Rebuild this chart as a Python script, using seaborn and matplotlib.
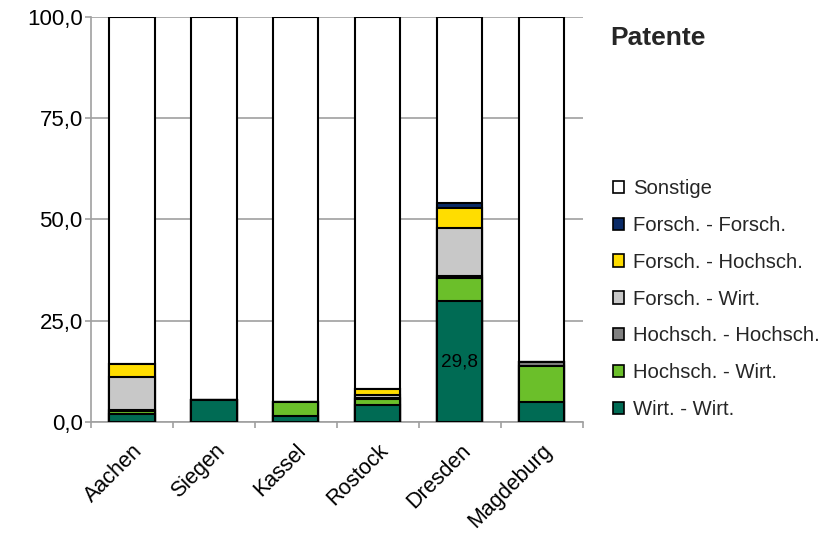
import numpy as np
import pandas as pd
import matplotlib
matplotlib.use("Agg")
import matplotlib.pyplot as plt
import seaborn as sns
from matplotlib.patches import Patch

cities = ["Aachen", "Siegen", "Kassel", "Rostock", "Dresden", "Magdeburg"]
series = ["Wirt. - Wirt.", "Hochsch. - Wirt.", "Hochsch. - Hochsch.",
          "Forsch. - Wirt.", "Forsch. - Hochsch.", "Forsch. - Forsch.", "Sonstige"]
wirt_wirt = [2.0, 5.4, 1.5, 4.1, 29.8, 4.9]
hoch_wirt = [0.8, 0.0, 3.4, 1.5, 5.7, 9.0]
hoch_hoch = [0.2, 0.0, 0.0, 0.2, 0.5, 0.8]
forsch_wirt = [8.2, 0.0, 0.0, 0.8, 11.8, 0.0]
forsch_hoch = [3.2, 0.0, 0.0, 1.5, 5.0, 0.0]
forsch_forsch = [0.0, 0.0, 0.0, 0.0, 1.3, 0.0]
colors = ["#006B54", "#6BBF2A", "#808080", "#C8C8C8", "#FFDD00", "#0A2A66", "#FFFFFF"]

values = [wirt_wirt, hoch_wirt, hoch_hoch, forsch_wirt, forsch_hoch, forsch_forsch]
sonst = [100 - sum(v[i] for v in values) for i in range(len(cities))]
values.append(sonst)

df = pd.DataFrame({s: v for s, v in zip(series, values)}, index=cities)
cum = df.cumsum(axis=1)

sns.set_theme(style="white")
plt.rcParams['font.family'] = ['Liberation Sans', 'DejaVu Sans']

fig = plt.figure(figsize=(8.35, 5.33), dpi=100)
ax = fig.add_axes([0.109, 0.2083, 0.589, 0.760])

for s, c in zip(reversed(series), reversed(colors)):
    d = pd.DataFrame({"city": cities, "val": cum[s].values})
    sns.barplot(data=d, x="city", y="val", color=c, ax=ax, width=0.55,
                edgecolor="black", linewidth=1.5, saturation=1, zorder=3)

ax.set_ylim(0, 100)
ax.set_xlim(-0.5, len(cities) - 0.5)
ax.set_yticks([0, 25, 50, 75, 100])
ax.set_yticklabels(["0,0", "25,0", "50,0", "75,0", "100,0"], fontsize=16, color="black")
ax.yaxis.grid(True, color="#A0A0A0", linewidth=1.2, zorder=0)
ax.set_axisbelow(True)
ax.set_xlabel("")
ax.set_ylabel("")
ax.set_xticks(range(len(cities)))
ax.set_xticklabels(cities, rotation=45, ha="right", va="top", rotation_mode="anchor",
                   fontsize=15.5, color="black")
ax.set_xticks(np.arange(-0.5, len(cities), 1.0), minor=True)
ax.tick_params(axis="x", which="major", length=0, pad=13)
ax.tick_params(axis="x", which="minor", length=4, color="#A0A0A0", width=1.2, direction="out", bottom=True)
ax.tick_params(axis="y", which="major", length=4, color="#A0A0A0", width=1.2, direction="out", left=True, pad=2)
for sp in ["top", "right"]:
    ax.spines[sp].set_visible(False)
for sp in ["left", "bottom"]:
    ax.spines[sp].set_color("#A0A0A0")
    ax.spines[sp].set_linewidth(1.2)

# data label
di = cities.index("Dresden")
ax.text(di, df.loc["Dresden", series[0]] / 2, "29,8", ha="center", va="center",
        fontsize=13.7, color="black", zorder=5)

fig.text(0.731, 0.929, "Patente", fontsize=19, fontweight="bold", ha="left", va="center")

handles = [Patch(facecolor=c, edgecolor="black", linewidth=1.2, label=s)
           for s, c in zip(reversed(series), reversed(colors))]
leg = fig.legend(handles=handles, loc="upper left", bbox_to_anchor=(0.734, 0.664),
                 frameon=False, fontsize=14.6, handlelength=0.55, handleheight=0.55,
                 handletextpad=0.45, labelspacing=0.88, borderaxespad=0, borderpad=0)

fig.savefig("out.png", dpi=100)
